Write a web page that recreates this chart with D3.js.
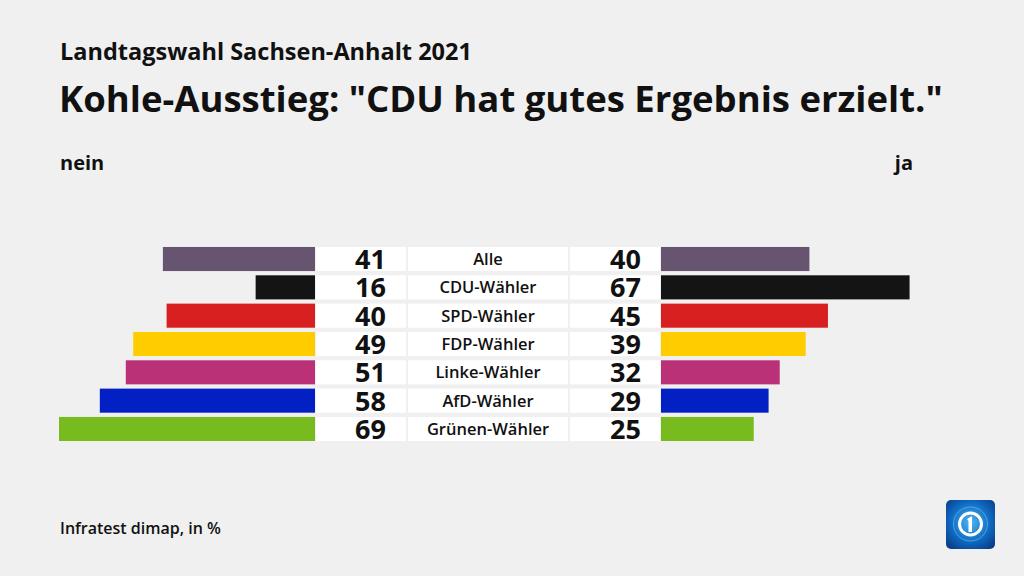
<!DOCTYPE html>
<html><head><meta charset="utf-8">
<script src="https://cdn.jsdelivr.net/npm/d3@7"></script>
<style>
html,body{margin:0;padding:0;background:#f0f0f0;}
svg{display:block;font-family:"Open Sans","Noto Sans",sans-serif;}
</style></head>
<body>
<svg id="c" width="1024" height="576"></svg>
<script>
const categories = ["Alle","CDU-Wähler","SPD-Wähler","FDP-Wähler","Linke-Wähler","AfD-Wähler","Grünen-Wähler"];
const nein = [41,16,40,49,51,58,69];
const ja = [40,67,45,39,32,29,25];
const colors = ["#665470","#141414","#d7201f","#ffcc00","#bb3177","#0320c4","#78bb1e"];

const svg = d3.select("#c");
svg.append("rect").attr("width",1024).attr("height",576).attr("fill","#f0f0f0");

svg.append("text").attr("x",60).attr("y",60).attr("font-size",23.5).attr("font-weight",700).attr("fill","#111").text("Landtagswahl Sachsen-Anhalt 2021");
svg.append("text").attr("x",59).attr("y",112).attr("font-size",36.5).attr("font-weight",700).attr("fill","#111").text('Kohle-Ausstieg: "CDU hat gutes Ergebnis erzielt."');
svg.append("text").attr("x",60).attr("y",170).attr("font-size",20).attr("font-weight",700).attr("fill","#111").text("nein");
svg.append("text").attr("x",913).attr("y",170).attr("text-anchor","end").attr("font-size",20).attr("font-weight",700).attr("fill","#111").text("ja");
svg.append("text").attr("x",60).attr("y",534).attr("font-size",16).attr("font-weight",600).attr("fill","#111").text("Infratest dimap, in %");

const y = d3.scaleBand().domain(categories).range([245,443]).paddingInner(0.15).paddingOuter(0.07);
const wL = d3.scaleLinear().domain([0,100]).range([0,371]);
const leftEdge = 315, rightEdge = 661;

const g = svg.append("g");
const rows = g.selectAll("g.row").data(categories).join("g").attr("class","row");
rows.append("rect").attr("x",(d,i)=>leftEdge - wL(nein[i])).attr("y",d=>y(d)).attr("width",(d,i)=>wL(nein[i])).attr("height",y.bandwidth()).attr("fill",(d,i)=>colors[i]);
rows.append("rect").attr("x",rightEdge).attr("y",d=>y(d)).attr("width",(d,i)=>wL(ja[i])).attr("height",y.bandwidth()).attr("fill",(d,i)=>colors[i]);
rows.append("rect").attr("x",316).attr("y",d=>y(d)).attr("width",90).attr("height",y.bandwidth()).attr("fill","#fff");
rows.append("rect").attr("x",408).attr("y",d=>y(d)).attr("width",160).attr("height",y.bandwidth()).attr("fill","#fff");
rows.append("rect").attr("x",570).attr("y",d=>y(d)).attr("width",90).attr("height",y.bandwidth()).attr("fill","#fff");
rows.append("text").attr("x",386).attr("y",d=>y(d)+y.bandwidth()/2+10).attr("text-anchor","end").attr("font-size",27).attr("font-weight",700).attr("fill","#111").text((d,i)=>nein[i]);
rows.append("text").attr("x",641).attr("y",d=>y(d)+y.bandwidth()/2+10).attr("text-anchor","end").attr("font-size",27).attr("font-weight",700).attr("fill","#111").text((d,i)=>ja[i]);
rows.append("text").attr("x",488).attr("y",d=>y(d)+y.bandwidth()/2+6).attr("text-anchor","middle").attr("font-size",16.5).attr("font-weight",600).attr("fill","#111").text(d=>d);

// logo
const defs = svg.append("defs");
const lg = defs.append("radialGradient").attr("id","lg").attr("cx","50%").attr("cy","45%").attr("r","65%");
lg.append("stop").attr("offset","0%").attr("stop-color","#4fb6f0");
lg.append("stop").attr("offset","60%").attr("stop-color","#0f6cc4");
lg.append("stop").attr("offset","100%").attr("stop-color","#0a3f8c");
const logo = svg.append("g").attr("transform","translate(946,500)");
logo.append("rect").attr("width",49).attr("height",49).attr("rx",5).attr("fill","url(#lg)");
logo.append("circle").attr("cx",24.5).attr("cy",24).attr("r",17).attr("fill","none").attr("stroke","#6cc3f2").attr("stroke-width",1).attr("opacity",0.6);
logo.append("circle").attr("cx",24.5).attr("cy",24).attr("r",11).attr("fill","none").attr("stroke","#fff").attr("stroke-width",3);
logo.append("path").attr("d","M21 19 L26 16 L26 32 L22.5 32 L22.5 21 Z").attr("fill","#fff");
</script>
</body></html>
